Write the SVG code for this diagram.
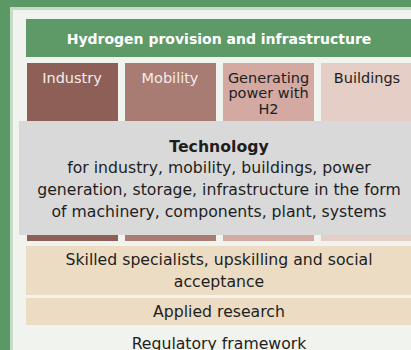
<svg xmlns="http://www.w3.org/2000/svg" width="411" height="350" viewBox="0 0 411 350">
  <style>
    text { font-family: "DejaVu Sans", "Liberation Sans", sans-serif; text-anchor: middle; }
    .hdr { font-size: 14px; font-weight: bold; fill: #ffffff; }
    .col { font-size: 14.5px; }
    .light { fill: #f4ecea; }
    .dark { fill: #1e1e1e; }
    .body { font-size: 15.7px; fill: #1e1e1e; }
    .bold { font-weight: bold; }
  </style>
  <rect x="0" y="0" width="411" height="350" fill="#5c9766"/>
  <rect x="10" y="7" width="401" height="343" fill="#c6dbc6"/>
  <rect x="13" y="10" width="398" height="340" fill="#f1f3ef"/>
  <g id="connectors"/>
  <g id="hydrogen">
    <rect x="26" y="19" width="385" height="38" fill="#5e9a68"/>
    <text class="hdr" x="219" y="44">Hydrogen provision and infrastructure</text>
  </g>
  <g id="industry">
    <rect x="27" y="63" width="91" height="178" fill="#8e5f57"/>
    <text class="col light" x="72" y="82.5">Industry</text>
  </g>
  <g id="mobility">
    <rect x="125" y="63" width="91" height="178" fill="#a87b73"/>
    <text class="col light" x="170" y="82.5">Mobility</text>
  </g>
  <g id="generating">
    <rect x="223" y="63" width="91" height="178" fill="#d3a9a2"/>
    <text class="col dark" x="268.5" y="82.5">Generating</text>
    <text class="col dark" x="268.5" y="98.3">power with</text>
    <text class="col dark" x="268.5" y="114">H2</text>
  </g>
  <g id="buildings">
    <rect x="321" y="63" width="90" height="178" fill="#e4cec6"/>
    <text class="col dark" x="367" y="82.5">Buildings</text>
  </g>
  <g id="technology">
    <rect x="19" y="121" width="392" height="114" fill="#d9d9d9"/>
    <text class="body bold" x="219" y="152">Technology</text>
    <text class="body" x="219" y="173.3">for industry, mobility, buildings, power</text>
    <text class="body" x="219" y="195">generation, storage, infrastructure in the form</text>
    <text class="body" x="219" y="216.7">of machinery, components, plant, systems</text>
  </g>
  <g id="skilled">
    <rect x="26" y="246" width="385" height="49" fill="#ebdcc3"/>
    <text class="body" x="219" y="265">Skilled specialists, upskilling and social</text>
    <text class="body" x="219" y="287">acceptance</text>
  </g>
  <g id="research">
    <rect x="26" y="298" width="385" height="27" fill="#ebdcc3"/>
    <text class="body" x="219" y="317">Applied research</text>
  </g>
  <g id="regulatory">
    <text class="body" x="219" y="349">Regulatory framework</text>
  </g>
</svg>
